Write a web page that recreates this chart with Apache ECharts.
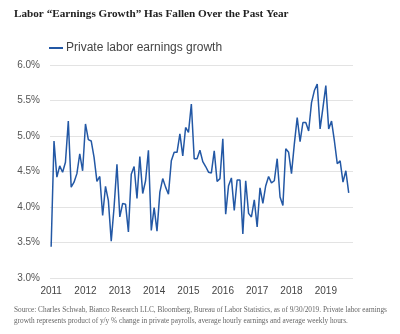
<!DOCTYPE html>
<html>
<head>
<meta charset="utf-8">
<script src="https://cdn.jsdelivr.net/npm/echarts@6/dist/echarts.min.js"></script>
<style>html,body{margin:0;padding:0;background:#fff}#c{width:400px;height:334px}</style>
</head>
<body>
<div id="c"></div>
<script>
// Monthly values, Jan 2011 .. Sep 2019 (%)
const y2011 = [3.44, 4.93, 4.42, 4.58, 4.49, 4.63, 5.21, 4.28, 4.35, 4.47, 4.75, 4.51];
const y2012 = [5.17, 4.95, 4.93, 4.70, 4.36, 4.43, 3.88, 4.29, 4.09, 3.52, 4.00, 4.60];
const y2013 = [3.86, 4.05, 4.04, 3.65, 4.46, 4.57, 4.12, 4.71, 4.19, 4.37, 4.80, 3.67];
const y2014 = [3.99, 3.66, 4.21, 4.40, 4.28, 4.18, 4.65, 4.77, 4.77, 5.03, 4.72, 5.12];
const y2015 = [5.05, 5.45, 4.68, 4.68, 4.80, 4.64, 4.57, 4.49, 4.48, 4.79, 4.36, 4.40];
const y2016 = [4.96, 3.90, 4.30, 4.41, 3.95, 4.38, 4.38, 3.62, 4.37, 3.91, 3.86, 4.10];
const y2017 = [3.72, 4.27, 4.05, 4.30, 4.43, 4.34, 4.37, 4.68, 4.14, 4.02, 4.82, 4.77];
const y2018 = [4.47, 4.89, 5.26, 4.92, 5.19, 5.19, 5.07, 5.47, 5.64, 5.73, 5.10, 5.40];
const y2019 = [5.71, 5.10, 5.21, 4.93, 4.61, 4.65, 4.35, 4.51, 4.20];
const yearLabels = ['2011','2012','2013','2014','2015','2016','2017','2018','2019'];
const seriesName = 'Private labor earnings growth';
const titleText = 'Labor \u201cEarnings Growth\u201d Has Fallen Over the Past Year';
const sourceText = 'Source: Charles Schwab, Bianco Research LLC, Bloomberg, Bureau of Labor Statistics, as of 9/30/2019. Private labor earnings\ngrowth represents product of y/y % change in private payrolls, average hourly earnings and average weekly hours.';

const values = [].concat(y2011, y2012, y2013, y2014, y2015, y2016, y2017, y2018, y2019);
const data = values.map((v, i) => [i, v]);
const yearTicks = yearLabels.map((_, i) => i * 12);

const chart = echarts.init(document.getElementById('c'), null, {renderer: 'canvas'});
chart.setOption({
  animation: false,
  backgroundColor: '#fff',
  title: [
    {text: titleText, left: 9, top: 4,
     textStyle: {fontFamily: 'Liberation Serif', fontWeight: 'bold', fontSize: 11.2, color: '#222'}},
    {text: sourceText, left: 9, top: 300,
     textStyle: {fontFamily: 'Liberation Serif', fontWeight: 'normal', fontSize: 7.3, color: '#666', lineHeight: 11}}
  ],
  legend: {
    left: 44, top: 37, itemWidth: 14, itemHeight: 2, itemGap: 4,
    icon: 'rect',
    textStyle: {fontFamily: 'Liberation Sans', fontSize: 12, color: '#444', padding: [0,0,0,-2]},
    data: [seriesName]
  },
  grid: {left: 50, width: 303, top: 65, height: 213},
  xAxis: {
    type: 'value', min: -0.4, max: 105.5,
    axisLine: {show: false}, axisTick: {show: false}, splitLine: {show: false},
    axisLabel: {
      customValues: yearTicks, margin: 8,
      fontFamily: 'Liberation Sans', fontSize: 10, color: '#444',
      formatter: v => yearLabels[Math.round(v / 12)]
    }
  },
  yAxis: {
    type: 'value', min: 3, max: 6, interval: 0.5,
    axisLine: {show: false}, axisTick: {show: false},
    splitLine: {lineStyle: {color: '#e3e3e3', width: 1}},
    axisLabel: {margin: 10, fontFamily: 'Liberation Sans', fontSize: 10, color: '#555',
      formatter: v => v.toFixed(1) + '%'}
  },
  series: [{
    name: seriesName, type: 'line', data: data, showSymbol: false,
    lineStyle: {color: '#2358a5', width: 1.5}, itemStyle: {color: '#2358a5'}
  }]
});
</script>
</body>
</html>
